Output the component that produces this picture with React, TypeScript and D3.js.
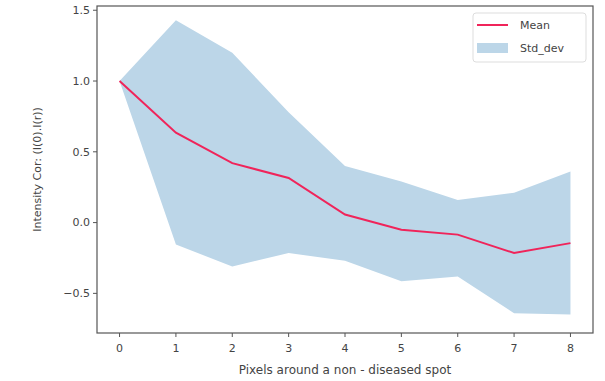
import React from "react";
import * as d3 from "d3";

// pixel offsets around the spot
const pixels = [0, 1, 2, 3, 4, 5, 6, 7, 8];
// mean intensity correlation
const meanValues = [1.0, 0.635, 0.42, 0.315, 0.057, -0.05, -0.085, -0.215, -0.145];
// mean + std and mean - std
const upperValues = [1.0, 1.43, 1.2, 0.78, 0.4, 0.29, 0.16, 0.21, 0.36];
const lowerValues = [1.0, -0.155, -0.31, -0.215, -0.27, -0.415, -0.38, -0.64, -0.65];
const yTicks = [-0.5, 0.0, 0.5, 1.0, 1.5];

export default function App() {
  const W = 605;
  const H = 381;
  const m = { top: 6, right: 12, bottom: 48, left: 97 };
  const iw = W - m.left - m.right;
  const ih = H - m.top - m.bottom;

  const x = d3.scaleLinear().domain([-0.4, 8.4]).range([0, iw]);
  const y = d3.scaleLinear().domain([-0.78, 1.53]).range([ih, 0]);

  const band = d3
    .area<number>()
    .x((d) => x(d))
    .y0((d, i) => y(lowerValues[i]))
    .y1((d, i) => y(upperValues[i]));

  const line = d3
    .line<number>()
    .x((d) => x(d))
    .y((d, i) => y(meanValues[i]));

  const textCol = "#444";
  const font = "DejaVu Sans, sans-serif";

  return (
    <svg
      width={W}
      height={H}
      style={{ position: "absolute", left: 0, top: 0, background: "#fff" }}
      fontFamily={font}
    >
      <g transform={`translate(${m.left},${m.top})`}>
        <path d={band(pixels) || ""} fill="#bcd6e8" />
        <path d={line(pixels) || ""} fill="none" stroke="#f0245a" strokeWidth={2} />
        <rect x={0} y={0} width={iw} height={ih} fill="none" stroke="#555" strokeWidth={1.2} />

        {pixels.map((p) => (
          <g key={p} transform={`translate(${x(p)},${ih})`}>
            <line y2={4} stroke="#555" />
            <text y={19} textAnchor="middle" fontSize={11} fill={textCol}>
              {p}
            </text>
          </g>
        ))}
        {yTicks.map((t) => (
          <g key={t} transform={`translate(0,${y(t)})`}>
            <line x2={-4} stroke="#555" />
            <text x={-7} dy="0.35em" textAnchor="end" fontSize={11} fill={textCol}>
              {t === 0 ? "0.0" : t < 0 ? "\u22120.5" : t.toFixed(1)}
            </text>
          </g>
        ))}

        <text x={iw / 2} y={ih + 41} textAnchor="middle" fontSize={12} fill={textCol}>
          Pixels around a non - diseased spot
        </text>
        <text
          transform={`translate(-56,${ih / 2}) rotate(-90)`}
          textAnchor="middle"
          fontSize={11}
          fill={textCol}
        >
          Intensity Cor: (I(0).I(r))
        </text>

        <g transform={`translate(${iw - 120},7)`}>
          <rect width={113} height={49} rx={3} fill="#fff" fillOpacity={0.8} stroke="#ddd" />
          <line x1={4} x2={35} y1={12} y2={12} stroke="#f0245a" strokeWidth={2} />
          <text x={47} y={12} dy="0.35em" fontSize={11} fill={textCol}>
            Mean
          </text>
          <rect x={4} y={30} width={31} height={10} fill="#bcd6e8" />
          <text x={47} y={35} dy="0.35em" fontSize={11} fill={textCol}>
            Std_dev
          </text>
        </g>
      </g>
    </svg>
  );
}
